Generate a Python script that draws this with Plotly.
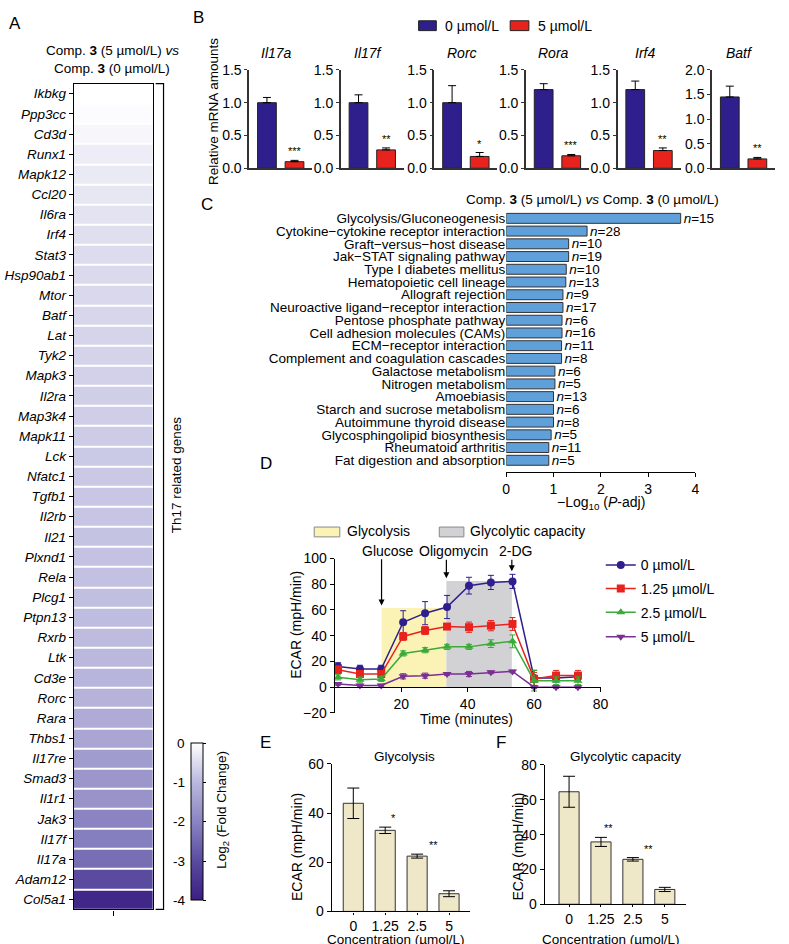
import plotly.graph_objects as go

W, H = 789, 944
def fx(px): return px / W
def fy(py): return 1 - py / H

FONT = "Arial, Liberation Sans, Helvetica, sans-serif"

# ---------------- Panel A data ----------------
genes = ["Ikbkg", "Ppp3cc", "Cd3d", "Runx1", "Mapk12", "Ccl20", "Il6ra", "Irf4", "Stat3",
         "Hsp90ab1", "Mtor", "Batf", "Lat", "Tyk2", "Mapk3", "Il2ra", "Map3k4", "Mapk11",
         "Lck", "Nfatc1", "Tgfb1", "Il2rb", "Il21", "Plxnd1", "Rela", "Plcg1", "Ptpn13",
         "Rxrb", "Ltk", "Cd3e", "Rorc", "Rara", "Thbs1", "Il17re", "Smad3", "Il1r1", "Jak3",
         "Il17f", "Il17a", "Adam12", "Col5a1"]
log2fc = [0.0, -0.05, -0.12, -0.25, -0.3, -0.35, -0.4, -0.45, -0.5,
          -0.52, -0.55, -0.58, -0.6, -0.62, -0.65, -0.68, -0.7, -0.72,
          -0.75, -0.77, -0.8, -0.82, -0.84, -0.86, -0.88, -0.9, -0.93,
          -0.96, -1.0, -1.05, -1.1, -1.25, -1.35, -1.55, -1.65, -1.7, -2.0,
          -2.1, -2.4, -3.0, -3.8]
cb_ticks = [0, -1, -2, -3, -4]

# ---------------- Panel B data ----------------
b_genes = ["Il17a", "Il17f", "Rorc", "Rora", "Irf4", "Batf"]
b_ctrl = [1.0, 1.0, 1.0, 1.2, 1.2, 1.45]
b_ctrl_err = [0.08, 0.12, 0.26, 0.09, 0.13, 0.22]
b_treat = [0.10, 0.28, 0.18, 0.19, 0.27, 0.19]
b_treat_err = [0.02, 0.03, 0.06, 0.02, 0.04, 0.03]
b_sig = ["***", "**", "*", "***", "**", "**"]
b_ymax = [1.5, 1.5, 1.5, 1.5, 1.5, 2.0]
b_groups = ["0 µmol/L", "5 µmol/L"]

# ---------------- Panel C data ----------------
pathways = ["Glycolysis/Gluconeogenesis", "Cytokine\u2212cytokine receptor interaction",
            "Graft\u2212versus\u2212host disease", "Jak\u2212STAT signaling pathway",
            "Type I diabetes mellitus", "Hematopoietic cell lineage", "Allograft rejection",
            "Neuroactive ligand\u2212receptor interaction", "Pentose phosphate pathway",
            "Cell adhesion molecules (CAMs)", "ECM\u2212receptor interaction",
            "Complement and coagulation cascades", "Galactose metabolism",
            "Nitrogen metabolism", "Amoebiasis", "Starch and sucrose metabolism",
            "Autoimmune thyroid disease", "Glycosphingolipid biosynthesis",
            "Rheumatoid arthritis", "Fat digestion and absorption"]
neglog_p = [3.69, 1.71, 1.32, 1.32, 1.27, 1.26, 1.20, 1.20, 1.18, 1.18,
            1.17, 1.17, 1.03, 1.03, 1.00, 1.00, 1.00, 0.95, 0.90, 0.90]
n_genes = [15, 28, 10, 19, 10, 13, 9, 17, 6, 16, 11, 8, 6, 5, 13, 6, 8, 5, 11, 5]

# ---------------- Panel D data ----------------
time_min = [1.0, 7.6, 14.0, 20.6, 27.2, 33.8, 40.4, 47.0, 53.5, 60.0, 66.6, 73.2]
d_series = ["0 µmol/L", "1.25 µmol/L", "2.5 µmol/L", "5 µmol/L"]
d_values = [
    [16.0, 14.0, 14.0, 50.4, 57.5, 62.3, 78.9, 81.4, 82.2, 7.1, 7.0, 8.0],
    [13.5, 10.2, 10.2, 39.4, 44.0, 47.1, 46.6, 47.8, 49.1, 6.4, 9.0, 9.0],
    [7.6, 5.8, 6.4, 26.2, 28.7, 31.3, 31.3, 33.8, 35.6, 5.0, 5.0, 5.0],
    [2.5, 1.3, 1.3, 8.4, 8.9, 10.2, 10.2, 11.5, 12.2, 0.0, 0.0, 0.0],
]
d_errors = [
    [3, 3, 3, 9, 9, 9, 6.5, 5.5, 5.5, 6, 3, 3],
    [3, 2, 2, 3, 3, 2, 4, 4, 5, 5, 4, 4],
    [2, 2, 2, 2, 2, 2, 2, 3, 5, 8, 3, 3],
    [1, 1, 1, 2, 2, 1, 2, 1, 1, 1, 1, 1],
]
d_colors = ["#2e1f8c", "#e8231d", "#3aaa38", "#7a2f95"]
d_symbols = ["circle", "square", "triangle-up", "triangle-down"]
phase_names = ["Glycolysis", "Glycolytic capacity"]
phase_start = [14.1, 33.6]
phase_end = [33.6, 53.3]
phase_top = [61.5, 82.5]
phase_colors = ["#faf3b5", "#d2d2d4"]
injections = ["Glucose", "Oligomycin", "2-DG"]
inj_time = [14.1, 33.6, 53.3]
inj_tip = [63.4, 84.7, 90.0]

# ---------------- Panels E/F data ----------------
conc_labels = ["0", "1.25", "2.5", "5"]
glyco = [44.0, 33.0, 22.5, 7.2]
glyco_err = [6.2, 1.3, 0.8, 1.2]
glyco_sig = ["", "*", "**", "***"]
capacity = [64.6, 35.8, 25.8, 8.5]
capacity_err = [8.9, 2.6, 1.0, 1.2]
capacity_sig = ["", "**", "**", "***"]

# ====================================================
fig = go.Figure()
layout = dict(width=W, height=H, margin=dict(l=0, r=0, t=0, b=0),
              paper_bgcolor="white", plot_bgcolor="white",
              font=dict(family=FONT, size=13.5, color="black"),
              showlegend=True)
annotations = []
shapes = []

def ann(x, y, text, size=13.5, xanchor="center", yanchor="middle", angle=0, **kw):
    d = dict(x=x, y=y, xref="paper", yref="paper", text=text, showarrow=False,
             xanchor=xanchor, yanchor=yanchor, textangle=angle,
             font=dict(family=FONT, size=size, color="black"))
    d.update(kw)
    annotations.append(d)

# ---------- Panel A ----------
colorscale = [[0.0, "#3b1e82"], [0.25, "#5a4b9f"], [0.5, "#8a85c2"],
              [0.75, "#bab8dd"], [1.0, "#ffffff"]]
fig.add_trace(go.Heatmap(
    z=[[v] for v in log2fc], y=genes, x=[0], xaxis="x", yaxis="y",
    zmin=-4, zmax=0, colorscale=colorscale, ygap=2,
    colorbar=dict(x=fx(190), xanchor="left", y=fy(748), yanchor="top",
                  len=160 / H, lenmode="fraction", thickness=12, thicknessmode="pixels",
                  outlinewidth=1, outlinecolor="black", ticks="outside", ticklen=3,
                  tickcolor="black", tickvals=cb_ticks, showticklabels=False,
                  xpad=0, ypad=0),
    hoverinfo="skip"))
layout["xaxis"] = dict(domain=[fx(71), fx(151)], range=[-0.5, 0.5], anchor="y",
                       showline=True, mirror=True, linecolor="black", linewidth=1.2,
                       ticks="outside", tickvals=[0], ticklen=5, tickcolor="black",
                       showticklabels=False, showgrid=False, zeroline=False, fixedrange=True)
layout["yaxis"] = dict(domain=[fy(917), fy(77)], anchor="x", autorange="reversed",
                       categoryorder="array", categoryarray=genes,
                       tickmode="array", tickvals=genes, ticktext=[f"<i>{g}</i>" for g in genes],
                       ticks="outside", ticklen=4, tickcolor="black",
                       showline=True, mirror=True, linecolor="black", linewidth=1.2,
                       showgrid=False, zeroline=False, tickfont=dict(size=13.5))
for i, v in enumerate(cb_ticks):
    ann(fx(186), fy(748 + (0 - v) * 40), str(v), xanchor="right")
ann(fx(222), fy(816), "Log<sub>2</sub> (Fold Change)", angle=-90)
ann(fx(110), fy(43), "Comp. <b>3</b> (5 µmol/L) <i>vs</i>")
ann(fx(110), fy(62), "Comp. <b>3</b> (0 µmol/L)")
# bracket
shapes.append(dict(type="path", xref="paper", yref="paper",
                   path=f"M {fx(154)} {fy(77)} L {fx(162)} {fy(77)} L {fx(162)} {fy(917)} L {fx(154)} {fy(917)}",
                   line=dict(color="black", width=1.2)))
ann(fx(176), fy(475), "Th17 related genes", angle=-90)

# ---------- Panel B ----------
b_x0 = [249, 342, 437, 530, 623, 719]
for i, g in enumerate(b_genes):
    k = i + 2
    xa, ya = f"x{k}", f"y{k}"
    fig.add_trace(go.Bar(
        x=[0, 1], y=[b_ctrl[i], b_treat[i]], xaxis=xa, yaxis=ya, width=0.68,
        marker=dict(color=["#2e1f8c", "#e8231d"], line=dict(color="#222", width=1)),
        error_y=dict(type="data", symmetric=False, array=[b_ctrl_err[i], b_treat_err[i]],
                     arrayminus=[0, 0], color="black", thickness=1, width=4),
        showlegend=False, hoverinfo="skip"))
    x0 = b_x0[i]
    layout[f"xaxis{k}"] = dict(domain=[fx(x0), fx(x0 + 64)], range=[-0.643, 1.643], anchor=ya,
                               showline=True, linecolor="#333", linewidth=1.5,
                               showticklabels=False, ticks="", showgrid=False, zeroline=False)
    layout[f"yaxis{k}"] = dict(domain=[fy(163), fy(63)], range=[0, b_ymax[i]], anchor=xa,
                               dtick=0.5, tickformat=".1f", ticks="outside", ticklen=3,
                               tickcolor="#333", showline=True, linecolor="#333", linewidth=1.5,
                               showgrid=False, zeroline=False, tickfont=dict(size=14))
    ann(fx(x0 + 28), fy(46), f"<i>{g}</i>", size=14)
    annotations.append(dict(x=1, y=b_treat[i] + b_treat_err[i], xref=xa, yref=ya,
                            text=b_sig[i], showarrow=False, yanchor="bottom", yshift=1,
                            font=dict(family=FONT, size=11, color="black")))
ann(fx(212), fy(105), "Relative mRNA amounts", angle=-90)
# legend B
for (x0, x1, tx), col, lab in zip([(421, 439, 446), (514, 533, 540)], ["#2e1f8c", "#e8231d"], b_groups):
    shapes.append(dict(type="rect", xref="paper", yref="paper", x0=fx(x0), x1=fx(x1),
                       y0=fy(23), y1=fy(13), fillcolor=col, line=dict(color="#222", width=1)))
    ann(fx(tx), fy(18), lab, xanchor="left", size=14)

# ---------- Panel C ----------
fig.add_trace(go.Bar(
    y=pathways, x=neglog_p, orientation="h", xaxis="x8", yaxis="y8", width=0.78,
    marker=dict(color="#5fa0da", line=dict(color="#333", width=1)),
    text=[f"<i>n</i>={n}" for n in n_genes], textposition="outside",
    textfont=dict(family=FONT, size=13.5, color="black"), constraintext="none",
    cliponaxis=False, showlegend=False, hoverinfo="skip"))
layout["xaxis8"] = dict(domain=[fx(510), fx(702)], range=[0, 4], dtick=1, anchor="y8",
                        ticks="outside", ticklen=4, tickcolor="black", showline=True,
                        linecolor="black", linewidth=1.2, showgrid=False, zeroline=False,
                        tickfont=dict(size=14))
layout["yaxis8"] = dict(domain=[fy(472), fy(207.5)], anchor="x8", range=[19.92, -0.5],
                        categoryorder="array", categoryarray=pathways,
                        tickmode="array", tickvals=pathways, ticktext=pathways,
                        showline=False, ticks="", showgrid=False, zeroline=False,
                        tickfont=dict(size=13.5))
ann(fx(606), fy(504), "\u2212Log<sub>10</sub> (<i>P</i>-adj)", size=14)
ann(fx(598), fy(195), "Comp. <b>3</b> (5 µmol/L) <i>vs</i> Comp. <b>3</b> (0 µmol/L)")

# ---------- Panel D ----------
for j, name in enumerate(d_series):
    fig.add_trace(go.Scatter(
        x=time_min, y=d_values[j], mode="lines+markers", name=name,
        xaxis="x9", yaxis="y9", legend=("legend" if j == 0 else f"legend{j + 1}"),
        line=dict(color=d_colors[j], width=1.5),
        marker=dict(symbol=d_symbols[j], size=8, color=d_colors[j]),
        error_y=dict(type="data", array=d_errors[j], color=d_colors[j], thickness=1, width=3),
        cliponaxis=False, hoverinfo="skip"))
layout["xaxis9"] = dict(domain=[fx(335.8), fx(605.8)], range=[0, 80], anchor="free",
                        position=fy(691), tickvals=[20, 40, 60, 80], ticks="outside",
                        ticklen=4, tickcolor="black", showline=True, linecolor="black",
                        linewidth=1.2, showgrid=False, zeroline=False, tickfont=dict(size=14))
layout["yaxis9"] = dict(domain=[fy(717), fy(560)], range=[-20, 100], dtick=20, anchor="x9",
                        ticks="outside", ticklen=4, tickcolor="black", showline=True,
                        linecolor="black", linewidth=1.2, showgrid=False, zeroline=False,
                        tickfont=dict(size=14))
for s, e, t, c in zip(phase_start, phase_end, phase_top, phase_colors):
    shapes.append(dict(type="rect", xref="x9", yref="y9", x0=s, x1=e, y0=0, y1=t,
                       fillcolor=c, line=dict(width=0), layer="below"))
# phase legend boxes
for (x0, x1, tx), c, lab in zip([(315, 341, 346), (442, 467, 471)], phase_colors, phase_names):
    shapes.append(dict(type="rect", xref="paper", yref="paper", x0=fx(x0), x1=fx(x1),
                       y0=fy(538), y1=fy(528), fillcolor=c, line=dict(color="#888", width=1)))
    ann(fx(tx), fy(532), lab, xanchor="left", size=14)
# injection arrows
label_shift = [6, 7, 4]
for name, t, tip, sh in zip(injections, inj_time, inj_tip, label_shift):
    tip_px = 691 - tip * 1.31
    annotations.append(dict(x=t, y=tip, xref="x9", yref="y9", text="", showarrow=True,
                            ax=0, ay=-(tip_px - 560), arrowhead=2, arrowsize=1,
                            arrowwidth=1.2, arrowcolor="black"))
    annotations.append(dict(x=t, y=fy(552), xref="x9", yref="paper", text=name,
                            showarrow=False, xshift=sh,
                            font=dict(family=FONT, size=14, color="black")))
ann(fx(297), fy(627), "ECAR (mpH/min)", angle=-90, size=14)
ann(fx(470), fy(723), "Time (minutes)", size=14)
for j in range(4):
    key = "legend" if j == 0 else f"legend{j + 1}"
    layout[key] = dict(x=fx(606), y=fy([567, 591, 615, 640][j]), xanchor="left",
                       yanchor="middle", bgcolor="rgba(0,0,0,0)", borderwidth=0,
                       itemwidth=30, font=dict(family=FONT, size=14, color="black"),
                       tracegroupgap=0)

# ---------- Panels E / F ----------
for k, vals, errs, sig, x0, x1, ytop, ybot, ymax, dt, title, tcx in [
        (10, glyco, glyco_err, glyco_sig, 332.7, 472.7, 769, 919, 60, 20, "Glycolysis", 407),
        (11, capacity, capacity_err, capacity_sig, 549, 693, 770, 911.7, 80, 20, "Glycolytic capacity", 631)]:
    xa, ya = f"x{k}", f"y{k}"
    fig.add_trace(go.Bar(
        x=conc_labels, y=vals, xaxis=xa, yaxis=ya, width=0.63,
        marker=dict(color="#efe8c8", line=dict(color="#333", width=1)),
        error_y=dict(type="data", array=errs, color="black", thickness=1, width=6),
        showlegend=False, hoverinfo="skip"))
    bw = (x1 - x0)
    c0 = 22 if k == 10 else 24.8
    sp = 32.4
    layout[f"xaxis{k}"] = dict(domain=[fx(x0), fx(x1)], range=[-c0 / sp, (bw - c0) / sp],
                               anchor=ya, showline=True, linecolor="black", linewidth=1.2,
                               ticks="outside", ticklen=2, tickcolor="black", showgrid=False,
                               zeroline=False, tickfont=dict(size=14))
    layout[f"yaxis{k}"] = dict(domain=[fy(ybot), fy(ytop)], range=[0, ymax], dtick=dt,
                               anchor=xa, ticks="outside", ticklen=4, tickcolor="black",
                               showline=True, linecolor="black", linewidth=1.2,
                               showgrid=False, zeroline=False, tickfont=dict(size=14))
    for c, v, e, s in zip(conc_labels, vals, errs, sig):
        if s:
            annotations.append(dict(x=c, y=v + e, xref=xa, yref=ya, text=s, showarrow=False,
                                    yanchor="bottom", yshift=1,
                                    font=dict(family=FONT, size=11, color="black")))
    ann(fx(tcx), fy(761), title, size=13.5)
    ann(fx((x0 + x1) / 2 - 5), fy(938), "Concentration (µmol/L)", size=13.5, yanchor="top")
ann(fx(297), fy(853), "ECAR (mpH/min)", angle=-90, size=14)
ann(fx(521), fy(853), "ECAR (mpH/min)", angle=-90, size=14)

# panel letters
for L, (px, py) in zip("ABCDEF", [(11, 16), (198, 10), (206, 200), (266, 463), (266, 747), (505, 747)]):
    ann(fx(px), fy(py), L, size=17)

layout["annotations"] = annotations
layout["shapes"] = shapes
fig.update_layout(**layout)
fig.write_html("out.html", config={"displayModeBar": False},
               post_script="document.body.style.margin='0';document.body.style.padding='0';")
